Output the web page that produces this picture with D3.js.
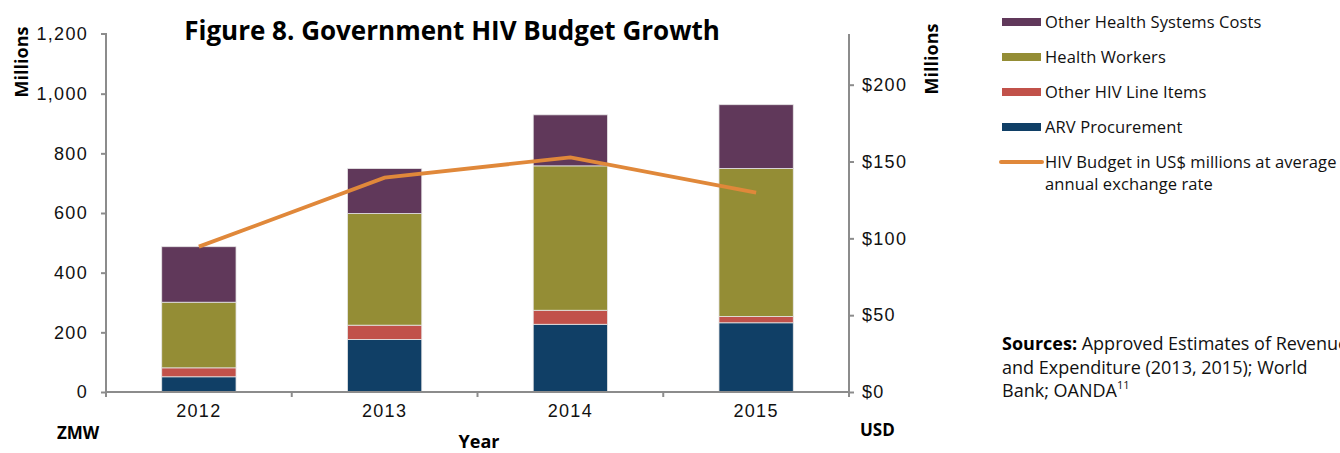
<!DOCTYPE html>
<html>
<head>
<meta charset="utf-8">
<script src="https://cdn.jsdelivr.net/npm/d3@7"></script>
<style>
body { margin: 0; background: #fff; }
svg { font-family: "Open Sans", sans-serif; }
.tick text { font-size: 18px; fill: #111; letter-spacing: 1.3px; }
.bold { font-weight: bold; fill: #000; }
.leg { font-size: 16.5px; fill: #111; letter-spacing: 0.1px; }
.src { font-size: 18px; fill: #111; }
</style>
</head>
<body>
<svg width="1340" height="453"></svg>
<script>
// data
const years = ["2012", "2013", "2014", "2015"]
const arv = [51, 176, 227, 232]
const otherHiv = [30, 48, 47, 21]
const healthWorkers = [220, 374, 484, 496]
const otherHealth = [186, 151, 171, 214]
const usdBudget = [94.6, 139.5, 152.7, 129.7]
const leftTicks = [0, 200, 400, 600, 800, 1000, 1200]
const rightTicks = [0, 50, 100, 150, 200]
const seriesNames = ["ARV Procurement", "Other HIV Line Items", "Health Workers", "Other Health Systems Costs"]
const colors = ["#103F66", "#C1514A", "#948D35", "#60385A"]

const svg = d3.select("svg")

const plotLeft = 106, plotRight = 849, plotTop = 34, plotBottom = 392

const x = d3.scaleBand()
	.domain(years)
	.range([plotLeft, plotRight])
	.paddingInner(0.6)
	.paddingOuter(0.3)

const y = d3.scaleLinear()
	.domain([0, 1200])
	.range([plotBottom, plotTop])

const y2 = d3.scaleLinear()
	.domain([0, 233])
	.range([plotBottom, plotTop])

const table = years.map((yr, i) => ({
	year: yr,
	"ARV Procurement": arv[i],
	"Other HIV Line Items": otherHiv[i],
	"Health Workers": healthWorkers[i],
	"Other Health Systems Costs": otherHealth[i]
}))

const stacked = d3.stack().keys(seriesNames)(table)

// bars
svg.selectAll("g.layer")
	.data(stacked)
	.enter()
	.append("g")
	.attr("class", "layer")
	.attr("fill", (d, i) => colors[i])
	.selectAll("rect")
	.data(d => d)
	.enter()
	.append("rect")
	.attr("x", d => x(d.data.year))
	.attr("y", d => y(d[1]))
	.attr("width", x.bandwidth())
	.attr("height", d => y(d[0]) - y(d[1]))
	.attr("stroke", "#e6e6e6")
	.attr("stroke-width", 0.8)

// left axis
const yAxis = svg.append("g")
	.attr("transform", `translate(${plotLeft},0)`)
	.call(d3.axisLeft(y).tickValues(leftTicks).tickFormat(d3.format(",")).tickSize(5).tickPadding(13))

// right axis
const y2Axis = svg.append("g")
	.attr("transform", `translate(${plotRight},0)`)
	.call(d3.axisRight(y2).tickValues(rightTicks).tickFormat(d => "$" + d).tickSize(5).tickPadding(8))

// bottom axis, ticks between categories
const xAxis = svg.append("g")
	.attr("transform", `translate(0,${plotBottom})`)
	.call(d3.axisBottom(x).tickSize(0).tickPadding(12))

const step = x.step()
xAxis.selectAll("line.sep")
	.data(d3.range(years.length + 1))
	.enter()
	.append("line")
	.attr("class", "sep")
	.attr("x1", i => plotLeft + i * step)
	.attr("x2", i => plotLeft + i * step)
	.attr("y1", 0)
	.attr("y2", 5)

svg.selectAll(".domain").attr("stroke", "#8c8c8c").attr("stroke-width", 2)
svg.selectAll(".tick line, line.sep").attr("stroke", "#8c8c8c").attr("stroke-width", 2)
xAxis.select(".domain").attr("d", `M${plotLeft},0H${plotRight}`)
yAxis.select(".domain").attr("d", `M-5,${plotTop}H0V${plotBottom}`)
y2Axis.select(".domain").attr("d", `M0,${plotTop}V${plotBottom}`)
yAxis.selectAll(".tick line").filter(d => d == 1200).remove()

// line
const line = d3.line()
	.x((d, i) => x(years[i]) + x.bandwidth() / 2)
	.y(d => y2(d))

svg.append("path")
	.datum(usdBudget)
	.attr("d", line)
	.attr("fill", "none")
	.attr("stroke", "#E0883A")
	.attr("stroke-width", 3.8)

// titles
svg.append("text")
	.attr("x", 452)
	.attr("y", 40)
	.attr("text-anchor", "middle")
	.attr("class", "bold")
	.style("font-size", "26px")
	.text("Figure 8. Government HIV Budget Growth")

svg.append("text")
	.attr("transform", "translate(28,62) rotate(-90)")
	.attr("text-anchor", "middle")
	.attr("class", "bold")
	.style("font-size", "18px")
	.text("Millions")

svg.append("text")
	.attr("transform", "translate(938,59) rotate(-90)")
	.attr("text-anchor", "middle")
	.attr("class", "bold")
	.style("font-size", "18px")
	.text("Millions")

svg.append("text").attr("x", 57).attr("y", 439).attr("class", "bold").style("font-size", "17px").text("ZMW")
svg.append("text").attr("x", 479).attr("y", 448).attr("text-anchor", "middle").attr("class", "bold").style("font-size", "18px").text("Year")
svg.append("text").attr("x", 860).attr("y", 436).attr("class", "bold").style("font-size", "17px").text("USD")

// legend
const legendOrder = [3, 2, 1, 0]
const legend = svg.append("g")
legendOrder.forEach((si, k) => {
	const ly = 22 + k * 35
	legend.append("rect")
		.attr("x", 1002).attr("y", ly - 4).attr("width", 39).attr("height", 8)
		.attr("fill", colors[si])
	legend.append("text")
		.attr("x", 1045).attr("y", ly + 6)
		.attr("class", "leg")
		.text(seriesNames[si])
})
legend.append("line")
	.attr("x1", 1001).attr("x2", 1042).attr("y1", 162).attr("y2", 162)
	.attr("stroke", "#E0883A").attr("stroke-width", 4).attr("stroke-linecap", "round")
legend.append("text")
	.attr("x", 1045).attr("y", 168)
	.attr("class", "leg")
	.text("HIV Budget in US$ millions at average")
legend.append("text")
	.attr("x", 1045).attr("y", 190)
	.attr("class", "leg")
	.text("annual exchange rate")

// sources
const src = svg.append("text").attr("x", 1002).attr("y", 350).attr("class", "src")
src.append("tspan").attr("font-weight", "bold").attr("fill", "#000").text("Sources:")
src.append("tspan").text(" Approved Estimates of Revenue")
svg.append("text").attr("x", 1002).attr("y", 374).attr("class", "src")
	.text("and Expenditure (2013, 2015); World")
const src3 = svg.append("text").attr("x", 1002).attr("y", 397).attr("class", "src")
src3.append("tspan").text("Bank; OANDA")
src3.append("tspan").attr("dy", -8).style("font-size", "11px").text("11")
</script>
</body>
</html>
